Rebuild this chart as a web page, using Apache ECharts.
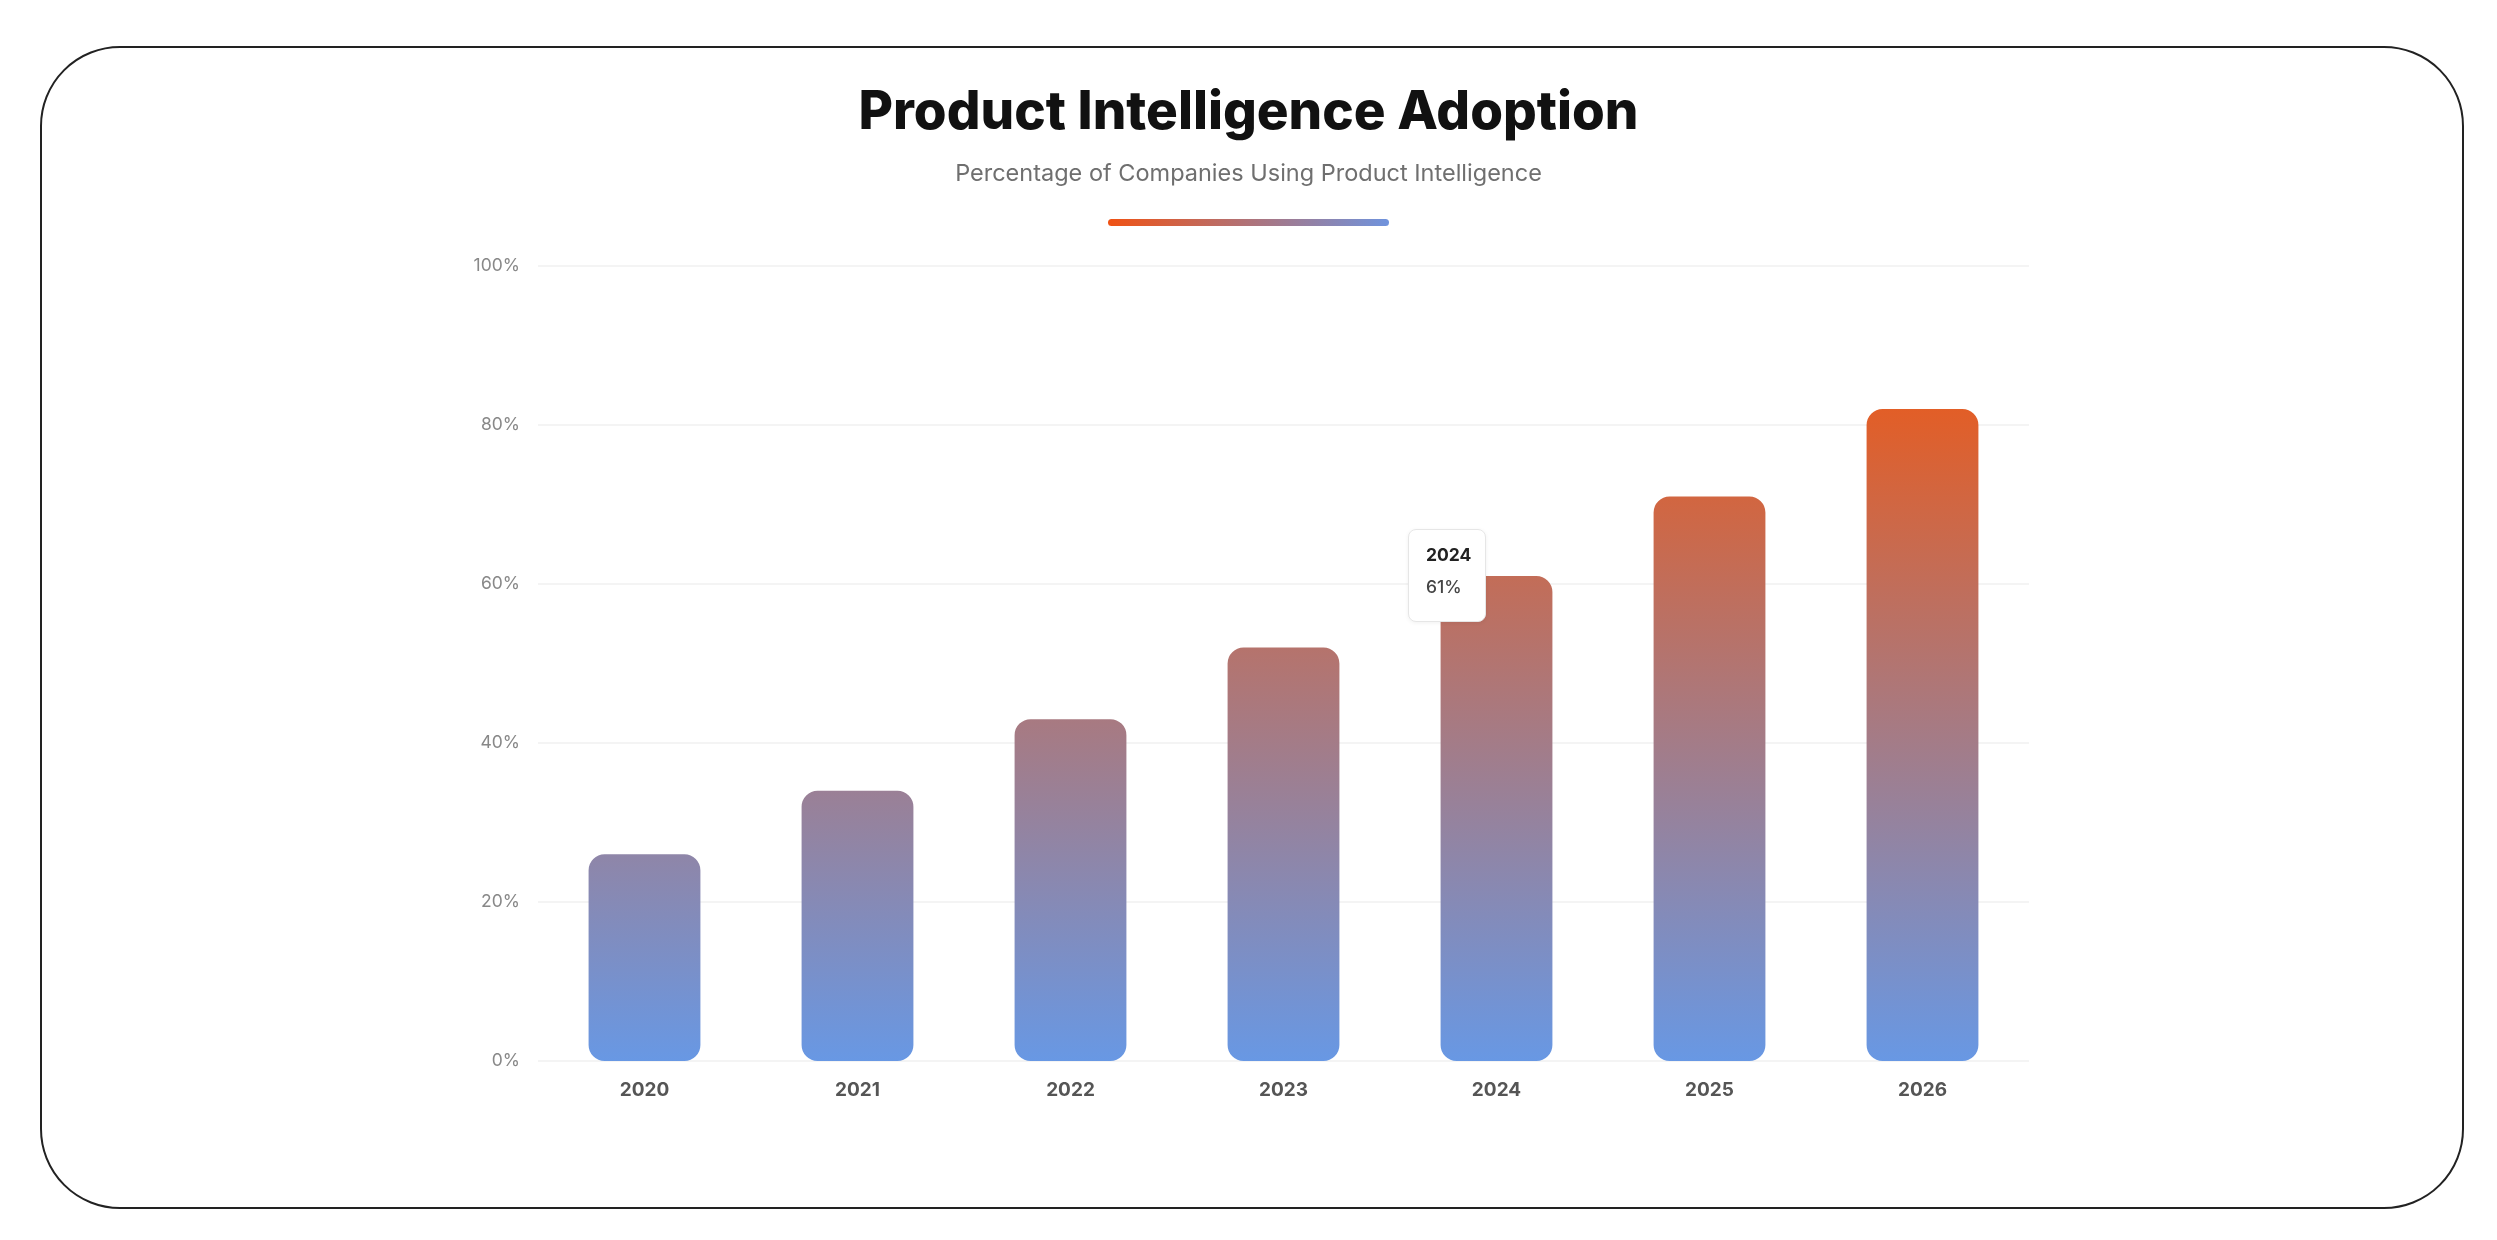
<!DOCTYPE html>
<html>
<head>
<meta charset="utf-8">
<script src="https://cdn.jsdelivr.net/npm/echarts@6/dist/echarts.min.js"></script>
<style>
  html, body { margin: 0; padding: 0; background: #ffffff; }
  #frame { position: absolute; left: 40px; top: 46px; width: 2420px; height: 1159px;
           border: 2px solid #222; border-radius: 80px; box-sizing: content-box; z-index: 0; }
  #chart { position: absolute; left: 0; top: 0; width: 2497px; height: 1240px; z-index: 1; }
</style>
</head>
<body>
<div id="frame"></div>
<div id="chart"></div>
<script>
const titleText = 'Product Intelligence Adoption';
const subtitleText = 'Percentage of Companies Using Product Intelligence';
const years = ['2020', '2021', '2022', '2023', '2024', '2025', '2026'];
const adoption = [26, 34, 43, 52, 61, 71, 82];
const yTicks = { min: 0, max: 100, interval: 20 };
const highlightIndex = 4;

const chart = echarts.init(document.getElementById('chart'), null, { renderer: 'canvas' });

function barGradient(yTop, yBottom) {
  return new echarts.graphic.LinearGradient(0, yTop, 0, yBottom, [
    { offset: 0, color: '#e25e27' },
    { offset: 1, color: '#6898e4' }
  ], true);
}

const option = {
  backgroundColor: 'transparent',
  animation: false,
  title: {
    text: titleText,
    subtext: subtitleText,
    left: 'center',
    top: 82,
    itemGap: 22,
    textStyle: { fontFamily: 'Inter', fontWeight: 800, fontSize: 53, color: '#111111' },
    subtextStyle: { fontFamily: 'Inter', fontWeight: 400, fontSize: 23.5, color: '#6f6f6f' }
  },
  graphic: [{
    type: 'rect',
    left: 'center',
    top: 219,
    shape: { width: 281, height: 7, r: 3.5 },
    style: {
      fill: new echarts.graphic.LinearGradient(0, 0, 1, 0, [
        { offset: 0, color: '#f05214' },
        { offset: 1, color: '#6f93dd' }
      ])
    }
  }],
  grid: { left: 538, right: 468, top: 266, bottom: 179, containLabel: false },
  tooltip: {
    trigger: 'item',
    alwaysShowContent: true,
    triggerOn: 'none',
    transitionDuration: 0,
    backgroundColor: '#ffffff',
    borderColor: '#e6e6e6',
    borderWidth: 1,
    padding: 0,
    extraCssText: 'border-radius:8px;box-shadow:0 1px 4px rgba(0,0,0,0.06);width:78px;height:93px;box-sizing:border-box;padding:12px 0 0 17px;',
    formatter: function (p) {
      return '<div style="font-family:Inter,sans-serif;font-weight:700;font-size:17.5px;color:#222;line-height:26px;">' + p.name + '</div>' +
             '<div style="font-family:Inter,sans-serif;font-weight:500;font-size:17.5px;color:#444;line-height:26px;margin-top:6px;">' + p.value + '%</div>';
    },
    position: function (point, params) {
      const px = chart.convertToPixel({ seriesIndex: 0 }, [params.dataIndex, params.value]);
      return [px[0] - 89, px[1] - 47];
    }
  },
  xAxis: {
    type: 'category',
    data: years,
    axisLine: { show: false },
    axisTick: { show: false },
    axisLabel: { margin: 20, fontFamily: 'Inter', fontWeight: 700, fontSize: 19, color: '#555555' }
  },
  yAxis: {
    type: 'value',
    min: yTicks.min,
    max: yTicks.max,
    interval: yTicks.interval,
    axisLine: { show: false },
    axisTick: { show: false },
    splitLine: { lineStyle: { color: '#f0f0f0', width: 1.5 } },
    axisLabel: { margin: 18, formatter: '{value}%', fontFamily: 'Inter', fontSize: 17.5, color: '#888888' }
  },
  series: [{
    type: 'bar',
    data: adoption,
    barWidth: '52.5%',
    itemStyle: { borderRadius: 16, color: '#8888aa' }
  }]
};

chart.setOption(option);

const yTopPx = chart.convertToPixel({ yAxisIndex: 0 }, Math.max.apply(null, adoption));
const yBottomPx = chart.convertToPixel({ yAxisIndex: 0 }, 0);
chart.setOption({ series: [{ itemStyle: { color: barGradient(yTopPx, yBottomPx) } }] });

chart.dispatchAction({ type: 'showTip', seriesIndex: 0, dataIndex: highlightIndex });
</script>
</body>
</html>
